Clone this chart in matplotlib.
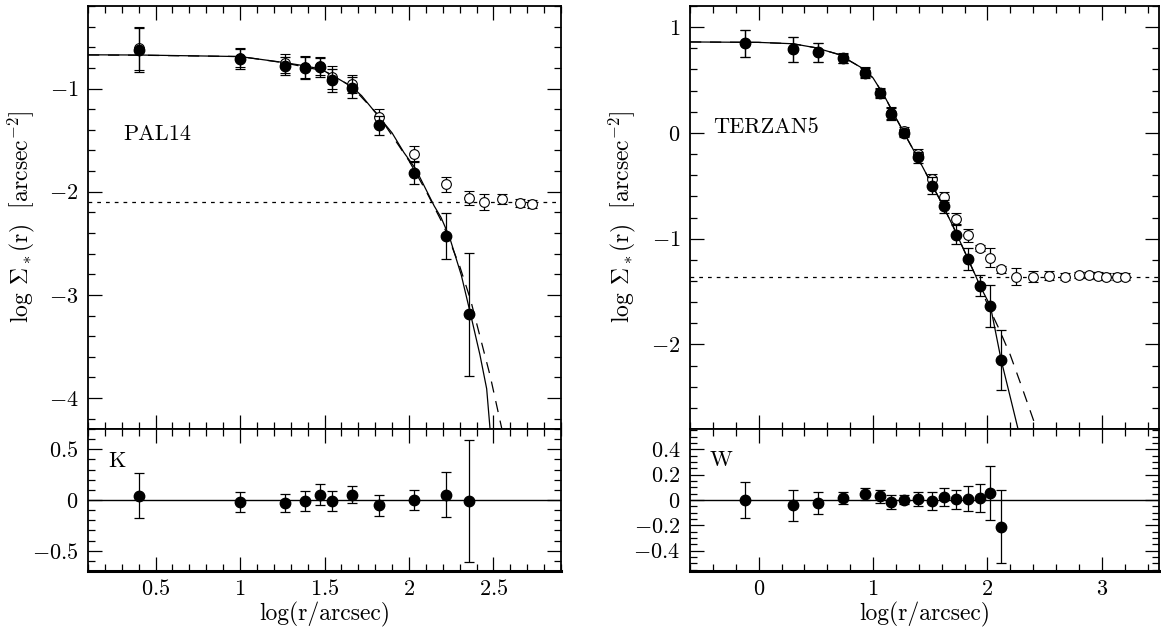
import matplotlib
matplotlib.use("Agg")
import matplotlib.pyplot as plt
from matplotlib.ticker import MultipleLocator, FuncFormatter

plt.rcParams['font.family'] = 'serif'
plt.rcParams['font.serif'] = ['cmr10', 'DejaVu Serif']
plt.rcParams['mathtext.fontset'] = 'cm'
plt.rcParams['axes.formatter.use_mathtext'] = True

# ---------------- PAL14 data ----------------
pal_x = [0.40, 1.00, 1.264, 1.384, 1.475, 1.544, 1.66, 1.823, 2.03, 2.22, 2.355]
pal_y = [-0.625, -0.715, -0.78, -0.80, -0.795, -0.92, -0.99, -1.356, -1.82, -2.43, -3.19]
pal_yerr = [0.21, 0.095, 0.09, 0.11, 0.09, 0.11, 0.10, 0.09, 0.105, 0.22, 0.60]

pal_open_x = [0.40, 1.00, 1.264, 1.384, 1.475, 1.544, 1.66, 1.823, 2.03, 2.22,
              2.355, 2.445, 2.55, 2.656, 2.73]
pal_open_y = [-0.61, -0.70, -0.755, -0.79, -0.78, -0.893, -0.958, -1.28, -1.63, -1.93,
              -2.06, -2.10, -2.07, -2.11, -2.12]
pal_open_err = [0.21, 0.09, 0.09, 0.11, 0.09, 0.11, 0.09, 0.08, 0.07, 0.07,
                0.065, 0.08, 0.05, 0.04, 0.04]

pal_bkg = -2.10

pal_king_x = [0.10, 0.40, 1.00, 1.26, 1.384, 1.475, 1.544, 1.66, 1.72, 1.82, 1.90, 1.97,
              2.04, 2.15, 2.19, 2.24, 2.31, 2.365, 2.42, 2.46, 2.48]
pal_king_y = [-0.673, -0.675, -0.69, -0.748, -0.78, -0.81, -0.87, -0.98, -1.07, -1.27,
              -1.43, -1.62, -1.78, -2.14, -2.25, -2.44, -2.81, -3.19, -3.58, -3.91, -4.30]
pal_wil_x = [0.10, 0.40, 1.00, 1.26, 1.50, 1.66, 1.82, 2.00, 2.10, 2.20, 2.30, 2.365,
             2.42, 2.48, 2.55]
pal_wil_y = [-0.675, -0.677, -0.69, -0.75, -0.83, -0.98, -1.26, -1.70, -1.99, -2.31,
             -2.72, -3.05, -3.40, -3.78, -4.30]

pal_res_y = [0.043, -0.02, -0.027, -0.013, 0.053, -0.01, 0.053, -0.053, 0.0, 0.053, -0.013]
pal_res_err = [0.22, 0.10, 0.09, 0.10, 0.10, 0.10, 0.085, 0.10, 0.10, 0.22, 0.60]

# ---------------- TERZAN5 data ----------------
ter_x = [-0.119, 0.30, 0.516, 0.739, 0.926, 1.065, 1.161, 1.274, 1.397, 1.516,
         1.62, 1.726, 1.829, 1.935, 2.026, 2.12]
ter_y = [0.846, 0.79, 0.764, 0.704, 0.568, 0.373, 0.18, 0.0, -0.23, -0.50,
         -0.695, -0.963, -1.19, -1.446, -1.636, -2.147]
ter_yerr = [0.13, 0.12, 0.09, 0.045, 0.045, 0.045, 0.055, 0.04, 0.05, 0.08,
            0.065, 0.09, 0.105, 0.10, 0.20, 0.28]

ter_open_x = [-0.119, 0.30, 0.516, 0.739, 0.926, 1.065, 1.161, 1.274, 1.397, 1.516,
              1.62, 1.726, 1.829, 1.935, 2.026, 2.12, 2.248, 2.40, 2.54, 2.68,
              2.80, 2.887, 2.97, 3.04, 3.13, 3.20]
ter_open_y = [0.846, 0.79, 0.764, 0.71, 0.575, 0.38, 0.19, 0.015, -0.20, -0.44,
              -0.606, -0.81, -0.97, -1.09, -1.18, -1.29, -1.358, -1.358, -1.35, -1.358,
              -1.345, -1.345, -1.35, -1.358, -1.358, -1.358]
ter_open_err = [0.13, 0.12, 0.09, 0.045, 0.045, 0.045, 0.055, 0.04, 0.05, 0.05,
                0.05, 0.055, 0.06, 0.03, 0.09, 0.035, 0.08, 0.05, 0.04, 0.035,
                0.03, 0.03, 0.03, 0.03, 0.03, 0.03]

ter_bkg = -1.358

ter_king_x = [-0.60, 0.00, 0.30, 0.50, 0.70, 0.90, 1.00, 1.10, 1.20, 1.30, 1.40, 1.50,
              1.60, 1.70, 1.80, 1.90, 1.935, 2.026, 2.12, 2.20, 2.27]
ter_king_y = [0.86, 0.856, 0.843, 0.805, 0.742, 0.616, 0.52, 0.347, 0.142, -0.057, -0.253,
              -0.458, -0.663, -0.884, -1.12, -1.358, -1.446, -1.636, -2.147, -2.50, -2.81]
ter_wil_x = [-0.60, 0.00, 0.30, 0.50, 0.70, 0.90, 1.00, 1.10, 1.20, 1.30, 1.40, 1.50,
             1.60, 1.70, 1.80, 1.90, 2.00, 2.10, 2.20, 2.30, 2.43]
ter_wil_y = [0.86, 0.856, 0.843, 0.805, 0.742, 0.616, 0.52, 0.347, 0.142, -0.057, -0.253,
             -0.458, -0.663, -0.884, -1.12, -1.36, -1.62, -1.85, -2.10, -2.40, -2.80]

ter_res_y = [0.0, -0.043, -0.024, 0.016, 0.048, 0.03, -0.019, 0.003, 0.01, -0.01,
             0.024, 0.005, 0.01, 0.016, 0.056, -0.21]
ter_res_err = [0.14, 0.12, 0.09, 0.045, 0.047, 0.05, 0.055, 0.035, 0.055, 0.07,
               0.07, 0.077, 0.10, 0.107, 0.21, 0.29]

# ---------------- figure ----------------
W, H = 1161, 635
fig = plt.figure(figsize=(W / 100, H / 100), dpi=100)


def ax_rect(x0, x1, y0, y1):
    return [x0 / W, 1 - y1 / H, (x1 - x0) / W, (y1 - y0) / H]


fmt = FuncFormatter(lambda v, _: '$%g$' % (0 if abs(v) < 1e-9 else round(v, 6)))

TICKFS = 16


def style(ax, xmaj, xmin, ymaj, ymin, xlabels):
    ax.xaxis.set_major_locator(MultipleLocator(xmaj))
    ax.xaxis.set_minor_locator(MultipleLocator(xmin))
    ax.yaxis.set_major_locator(MultipleLocator(ymaj))
    ax.yaxis.set_minor_locator(MultipleLocator(ymin))
    ax.xaxis.set_major_formatter(fmt)
    ax.yaxis.set_major_formatter(fmt)
    ax.tick_params(which='both', direction='in', top=True, right=True,
                   labelsize=TICKFS, width=0.9, color='black')
    ax.tick_params(which='major', length=10)
    ax.tick_params(which='minor', length=5)
    ax.tick_params(axis='x', pad=6)
    ax.tick_params(axis='y', pad=7)
    if not xlabels:
        ax.tick_params(axis='x', labelbottom=False)
    for s in ax.spines.values():
        s.set_linewidth(1.3)


ebkw = dict(fmt='o', color='black', ms=7.5, elinewidth=0.9, capsize=3.5, capthick=0.9)
obkw = dict(fmt='o', color='black', mfc='white', mec='black', ms=7, mew=0.8,
            elinewidth=0.9, capsize=3.5, capthick=0.9)

panels = [
    dict(x0=88, x1=561, xlim=(0.1, 2.9), ylim=(-4.3, -0.2), rlim=(-0.7, 0.7),
         xmaj=0.5, xmin=0.1, ymaj=1, ymin=0.2, rmaj=0.5, rmin=0.1,
         x=pal_x, y=pal_y, yerr=pal_yerr, ox=pal_open_x, oy=pal_open_y, oe=pal_open_err,
         bkg=pal_bkg, kx=pal_king_x, ky=pal_king_y, wx=pal_wil_x, wy=pal_wil_y,
         ry=pal_res_y, re=pal_res_err, name='PAL14', namepos=(0.31, -1.44),
         band='K', bandpos=(0.22, 0.38), ylabx=21),
    dict(x0=690, x1=1159, xlim=(-0.6, 3.5), ylim=(-2.8, 1.2), rlim=(-0.56, 0.56),
         xmaj=1, xmin=0.2, ymaj=1, ymin=0.2, rmaj=0.2, rmin=0.05,
         x=ter_x, y=ter_y, yerr=ter_yerr, ox=ter_open_x, oy=ter_open_y, oe=ter_open_err,
         bkg=ter_bkg, kx=ter_king_x, ky=ter_king_y, wx=ter_wil_x, wy=ter_wil_y,
         ry=ter_res_y, re=ter_res_err, name='TERZAN5', namepos=(-0.40, 0.05),
         band='W', bandpos=(-0.43, 0.31), ylabx=622),
]

for p in panels:
    axu = fig.add_axes(ax_rect(p['x0'], p['x1'], 6, 429))
    axl = fig.add_axes(ax_rect(p['x0'], p['x1'], 429, 571))

    axu.errorbar(p['ox'], p['oy'], yerr=p['oe'], zorder=3, **obkw)
    axu.errorbar(p['x'], p['y'], yerr=p['yerr'], zorder=4, **ebkw)
    axu.axhline(p['bkg'], color='black', lw=0.9, ls=(0, (3, 4)), zorder=1)
    axu.plot(p['kx'], p['ky'], color='black', lw=0.9, zorder=2)
    axu.plot(p['wx'], p['wy'], color='black', lw=0.9, ls=(0, (9, 7)), zorder=2)
    axu.set_xlim(*p['xlim'])
    axu.set_ylim(*p['ylim'])
    style(axu, p['xmaj'], p['xmin'], p['ymaj'], p['ymin'], False)
    axu.text(p['namepos'][0], p['namepos'][1], p['name'], fontsize=16,
             ha='left', va='center')

    axl.errorbar(p['x'], p['ry'], yerr=p['re'], zorder=4, **ebkw)
    axl.axhline(0, color='black', lw=1.0, zorder=1)
    axl.set_xlim(*p['xlim'])
    axl.set_ylim(*p['rlim'])
    style(axl, p['xmaj'], p['xmin'], p['rmaj'], p['rmin'], True)
    axl.spines['bottom'].set_linewidth(2.2)
    axl.text(p['bandpos'][0], p['bandpos'][1], p['band'], fontsize=16,
             ha='left', va='center')
    axl.set_xlabel(r'log(r/arcsec)', fontsize=17, labelpad=2)

    fig.text(p['ylabx'] / W, 1 - 217 / H,
             r'log $\Sigma_*$(r)  [arcsec$^{-2}$]', rotation=90,
             ha='center', va='center', fontsize=17)

fig.savefig('out.png', dpi=100)
